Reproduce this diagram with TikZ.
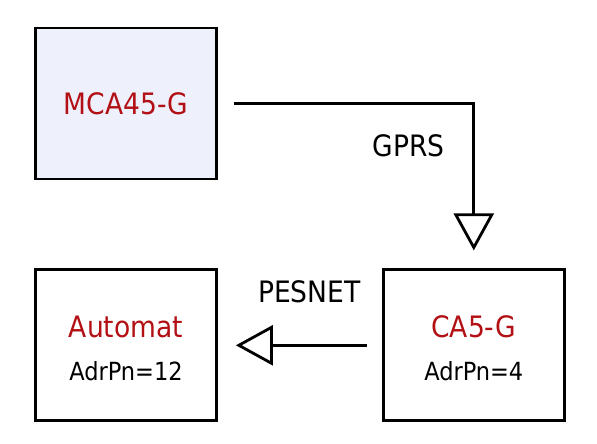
\documentclass[tikz,border=0pt]{standalone}
\usepackage{fontspec}
\setmainfont{DejaVu Sans Condensed}
\usepackage{tikz}
\newcommand{\boxwidth}{181pt}
\newcommand{\boxheight}{151pt}
\newcommand{\devname}[1]{\textcolor{devRed}{#1}}
\newcommand{\devaddr}[1]{{\fontsize{25}{30}\selectfont #1}}
\newcommand{\topstrut}{\rule{0pt}{28.4pt}}
\definecolor{devRed}{RGB}{178,16,20}
\definecolor{devFill}{RGB}{238,240,252}
\usetikzlibrary{arrows.meta,calc,positioning}
\tikzset{
  x=1pt,y=1pt,
  font=\fontsize{29.5}{43}\selectfont,
  node distance=88pt and 164pt,
  device/.style={draw,line width=2.8pt,shape=rectangle,minimum width=\boxwidth,minimum height=\boxheight,inner sep=0,align=center},
  link/.style={draw,-{Triangle[open,length=37pt,width=40pt]},line width=2.8pt},
  lbl/.style={inner sep=0},
}

\begin{document}
\begin{tikzpicture}
      \useasboundingbox (0,0) rectangle (597,444);
      \node (mca) [device,fill=devFill] at (126,340.5) {\devname{MCA45-G}};
      \node (auto) [device,below=of mca] {\topstrut\devname{Automat}\\\devaddr{AdrPn=12}};
      \node (ca5) [device,right=of auto] {\topstrut\devname{CA5-G}\\\devaddr{AdrPn=4}};
      \coordinate (bend) at (mca.east -| ca5.north);
      \path [link,shorten <=16pt,shorten >=18pt] (mca.east) -| (ca5.north);
      \path [link,shorten <=15pt,shorten >=18pt] (ca5.west) -- (auto.east);
      \node (gprs) [lbl,below left=31pt and 29pt of bend] {GPRS};
      \node (pesnet) [lbl,above right=42pt and 40pt of auto.east] {PESNET};
    \end{tikzpicture}
\end{document}
